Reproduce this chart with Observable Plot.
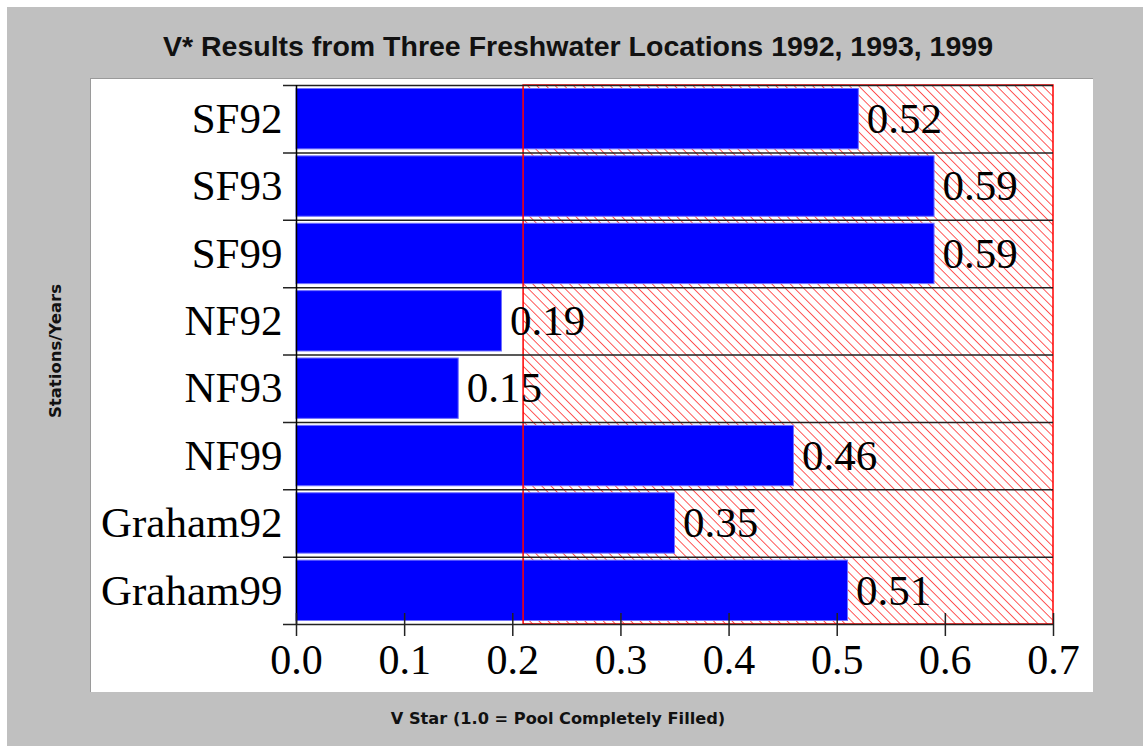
<!DOCTYPE html>
<html><head><meta charset="utf-8">
<script src="https://cdn.jsdelivr.net/npm/d3@7"></script>
<script src="https://cdn.jsdelivr.net/npm/@observablehq/plot@0.6"></script>
<style>
html,body{margin:0;padding:0;background:#fff;}
#wrap{position:relative;width:1143px;height:746px;overflow:hidden;}
#bg{position:absolute;left:7px;top:7px;right:0;bottom:0;background:#c0c0c0;}
#panel{position:absolute;left:90px;top:78px;width:1003px;height:614px;background:#fff;border-top:1px solid #9a9a9a;border-left:1px solid #9a9a9a;box-sizing:border-box;}
.t{position:absolute;font-weight:bold;color:#111;white-space:nowrap;transform:translate(-50%,-50%);}
#title{font-family:"Liberation Sans",Arial,sans-serif;font-size:28.5px;left:578px;top:46px;}
#xtitle{font-family:"DejaVu Sans",sans-serif;font-size:16.2px;left:558px;top:718px;}
#ytitle{font-family:"DejaVu Sans",sans-serif;font-size:16.5px;left:55px;top:351px;transform:translate(-50%,-50%) rotate(-90deg);}
#chart{position:absolute;left:0;top:0;}
</style>
</head>
<body>
<div id="wrap">
  <div id="bg"></div>
  <div id="panel"></div>
  <div id="chart"></div>
  <div class="t" id="title">V* Results from Three Freshwater Locations 1992, 1993, 1999</div>
  <div class="t" id="xtitle">V Star (1.0 = Pool Completely Filled)</div>
  <div class="t" id="ytitle">Stations/Years</div>
</div>
<script>
const stations = ["SF92", "SF93", "SF99", "NF92", "NF93", "NF99", "Graham92", "Graham99"];
const vstar = [0.52, 0.59, 0.59, 0.19, 0.15, 0.46, 0.35, 0.51];
const xTicks = [0, 0.1, 0.2, 0.3, 0.4, 0.5, 0.6, 0.7];
const threshold = 0.21;
const xMax = 0.7;

const n = stations.length;
const rows = stations.map((s, i) => ({station: s, value: vstar[i], i}));
const bounds = d3.range(0, n + 1);
const hatchRange = [{x1: threshold, x2: xMax}];
const serif = "Liberation Serif, Times New Roman, serif";

const plot = Plot.plot({
  width: 1143,
  height: 746,
  marginLeft: 296,
  marginRight: 90,
  marginTop: 85,
  marginBottom: 122,
  style: {background: "transparent", overflow: "visible"},
  x: {domain: [0, xMax], axis: null},
  y: {domain: [0, n], reverse: true, axis: null},
  marks: [
    Plot.rect(hatchRange, {x1: "x1", x2: "x2", y1: 0, y2: n, fill: "url(#hatch)"}),
    Plot.rect(rows, {x1: 0, x2: "value", y1: "i", y2: d => d.i + 1, insetTop: 3.5, insetBottom: 3.5,
      fill: "#0000ff", stroke: "#7070ff", strokeWidth: 1}),
    Plot.rect(hatchRange, {x1: "x1", x2: "x2", y1: 0, y2: n, fill: "none", stroke: "#ff0000", strokeWidth: 1.5}),
    Plot.ruleY(bounds, {x1: 0, x2: xMax, insetLeft: -13, stroke: "#222", strokeWidth: 1.5}),
    Plot.ruleX([0], {y1: 0, y2: n, stroke: "#000", strokeWidth: 1.5}),
    Plot.ruleX(xTicks, {y1: n, y2: n, insetTop: -11, insetBottom: -12, stroke: "#222", strokeWidth: 1.5}),
    Plot.axisX({ticks: xTicks, tickSize: 0, tickPadding: 20, tickFormat: ".1f",
      fontSize: 42, fontFamily: serif, fill: "#000"}),
    Plot.text(rows, {x: 0, y: d => d.i + 0.5, text: "station", textAnchor: "end", dx: -14,
      fontSize: 43, fontFamily: serif, fill: "#000"}),
    Plot.text(rows, {x: "value", y: d => d.i + 0.5, text: d => d.value.toFixed(2), textAnchor: "start", dx: 8,
      fontSize: 43, fontFamily: serif, fill: "#000"})
  ]
});

const ns = "http://www.w3.org/2000/svg";
const defs = document.createElementNS(ns, "defs");
defs.innerHTML = `<pattern id="hatch" patternUnits="userSpaceOnUse" width="6.5" height="6.5" patternTransform="rotate(-45)">
  <rect width="6.5" height="6.5" fill="#fff"/>
  <line x1="0" y1="0" x2="0" y2="6.5" stroke="#ff0000" stroke-width="1.3"/>
</pattern>`;
plot.insertBefore(defs, plot.firstChild);
document.getElementById("chart").appendChild(plot);
</script>
</body></html>
